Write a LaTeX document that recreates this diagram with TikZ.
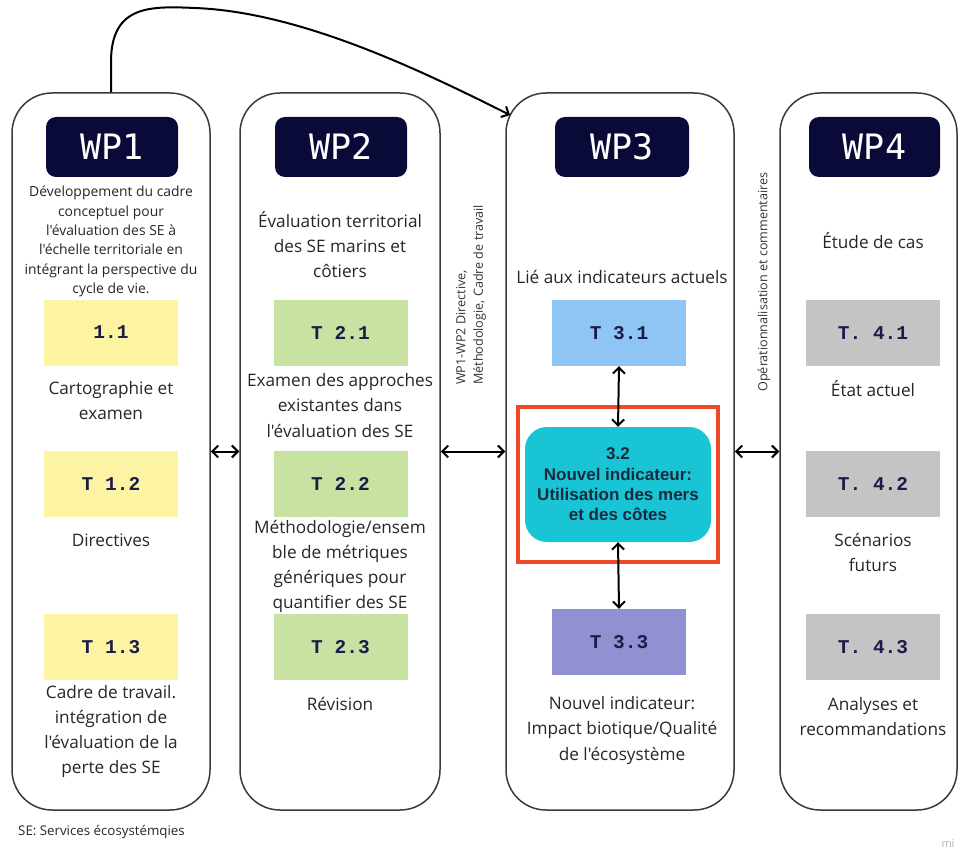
\documentclass[tikz,border=0pt]{standalone}
\usepackage{fontspec}
\setmainfont{Open Sans}[Ligatures=TeXReset]
\newfontfamily\monofont{Liberation Mono}
\newfontfamily\hdrfont{DejaVu Sans Mono}
\newfontfamily\boldsans{Liberation Sans}
\usetikzlibrary{arrows.meta}

\definecolor{hdrnavy}{HTML}{0A0A38}
\definecolor{labelink}{HTML}{1C1C4A}
\definecolor{colline}{HTML}{3A3A3A}
\definecolor{tyellow}{HTML}{FCF4A3}
\definecolor{tgreen}{HTML}{C8E2A2}
\definecolor{tblue}{HTML}{8EC5F5}
\definecolor{tpurple}{HTML}{9090D2}
\definecolor{tgray}{HTML}{C4C4C4}
\definecolor{cyanbox}{HTML}{19C5D5}
\definecolor{redframe}{HTML}{EE4A2A}
\definecolor{cyanink}{HTML}{1A2A3E}

\tikzset{
  column/.style={draw=colline, line width=1.5pt, rounded corners=40pt,
    minimum height=717pt, inner sep=0pt},
  header/.style={fill=hdrnavy, rounded corners=10pt, minimum width=132pt,
    minimum height=60pt, inner sep=0pt, text=white,
    font=\hdrfont\fontsize{35}{38}\selectfont},
  task/.style={minimum width=134pt, minimum height=66pt, inner sep=0pt,
    text=labelink, font=\monofont\bfseries\fontsize{19.5}{22}\selectfont},
  body/.style={align=center, inner sep=0pt, text=black!85,
    font=\fontsize{17.2}{25.3}\selectfont},
  small/.style={align=center, inner sep=0pt, text=black!85,
    font=\fontsize{13.9}{19.4}\selectfont},
  sidenote/.style={inner sep=0pt, rotate=90, text=black!80,
    font=\fontsize{12.6}{17.5}\selectfont},
  link/.style={line width=2pt, {Straight Barb[length=6pt,width=12pt]}-{Straight Barb[length=6pt,width=12pt]}},
}

\begin{document}
\begin{tikzpicture}[x=1pt,y=-1pt]
\useasboundingbox (0,0) rectangle (960,850);

% ---- work package columns
\node[column, minimum width=198pt] (wp1) at (111,451.5) {};
\node[column, minimum width=200pt] (wp2) at (340,451.5) {};
\node[column, minimum width=228pt] (wp3) at (620,451.5) {};
\node[column, minimum width=177pt] (wp4) at (868.5,451.5) {};

% ---- headers
\node[header] (h1) at (112,147) {WP1};
\node[header] (h2) at (341,147) {WP2};
\node[header, minimum width=134pt] (h3) at (622,147) {WP3};
\node[header, minimum width=131pt] (h4) at (874.5,147) {WP4};

% ---- WP1
\node[small] (d1) at (111,241.5) {Développement du cadre\\conceptuel pour\\l'évaluation des SE à\\l'échelle territoriale en\\intégrant la perspective du\\cycle de vie.};
\node[task, fill=tyellow] (t11) at (111,332.5) {1.1};
\node[body] (l11) at (111,400.5) {Cartographie et\\examen};
\node[task, fill=tyellow] (t12) at (111,483.5) {T 1.2};
\node[body] (l12) at (111,540) {Directives};
\node[task, fill=tyellow] (t13) at (111,647) {T 1.3};
\node[body] (l13) at (111,731.5) {Cadre de travail.\\intégration de\\l'évaluation de la\\perte des SE};

% ---- WP2
\node[body] (d2) at (340,244.5) {Évaluation territorial\\des SE marins et\\côtiers};
\node[task, fill=tgreen] (t21) at (340.5,333) {T 2.1};
\node[body] (l21) at (340,405.5) {Examen des approches\\existantes dans\\l'évaluation des SE};
\node[task, fill=tgreen] (t22) at (340.5,483.5) {T 2.2};
\node[body] (l22) at (340,566.5) {Méthodologie/ensem\\ble de métriques\\génériques pour\\quantifier des SE};
\node[task, fill=tgreen] (t23) at (340.5,647) {T 2.3};
\node[body] (l23) at (340,704) {Révision};

% ---- WP3
\node[body] (d3) at (622,277) {Lié aux indicateurs actuels};
\node[task, fill=tblue] (t31) at (619,333) {T 3.1};
\node[draw=redframe, line width=4pt, minimum width=200pt, minimum height=155pt,
      inner sep=0pt] (frame) at (618,484.5) {};
\node[fill=cyanbox, rounded corners=22pt, minimum width=186pt, minimum height=115pt,
      inner sep=0pt, align=center, text=cyanink,
      font=\boldsans\bfseries\fontsize{17}{20.3}\selectfont] (t32) at (618,484.5)
      {3.2\\Nouvel indicateur:\\Utilisation des mers\\et des côtes};
\node[task, fill=tpurple] (t33) at (619,642) {T 3.3};
\node[body] (l33) at (622,730.5) {Nouvel indicateur:\\Impact biotique/Qualité\\de l'écosystème};

% ---- WP4
\node[body] (d4) at (873,241) {Étude de cas};
\node[task, fill=tgray] (t41) at (873,333) {T. 4.1};
\node[body] (l41) at (873,389) {État actuel};
\node[task, fill=tgray] (t42) at (873,483.5) {T. 4.2};
\node[body] (l42) at (873,552.5) {Scénarios\\futurs};
\node[task, fill=tgray] (t43) at (873,647) {T. 4.3};
\node[body] (l43) at (873,716.5) {Analyses et\\recommandations};

% ---- side notes between columns
\node[sidenote, anchor=north west, align=left] (n23) at (456,385)
  {WP1-WP2 Directive,\\Méthodologie, Cadre de travail};
\node[sidenote] (n34) at (764,282) {Opérationnalisation et commentaires};

% ---- links
\draw[link] (wp1.east) -- (wp2.west);
\draw[link] (wp2.east) -- (wp3.west);
\draw[link] (wp3.east) -- (wp4.west);
\draw[link] (t31.south) -- (t32.north);
\draw[link] (t32.south) -- (t33.north);

% ---- WP1 feeds WP3
\coordinate (wp3corner) at (510,115);
\draw[line width=2pt, -{Straight Barb[length=6pt,width=12pt]}]
  (wp1.north) -- (111,62) .. controls (111,5) and (150,6) .. (195,8)
  .. controls (300,12) and (420,70) .. (wp3corner);

% ---- footnote
\node[anchor=west, inner sep=0pt, text=black!85, font=\fontsize{13.3}{16}\selectfont]
  (foot) at (18,832) {SE: Services écosystémqies};
\node[inner sep=0pt, text=black!30, font=\fontsize{11}{12}\selectfont] (mark) at (948,843) {mi};
\end{tikzpicture}
\end{document}
